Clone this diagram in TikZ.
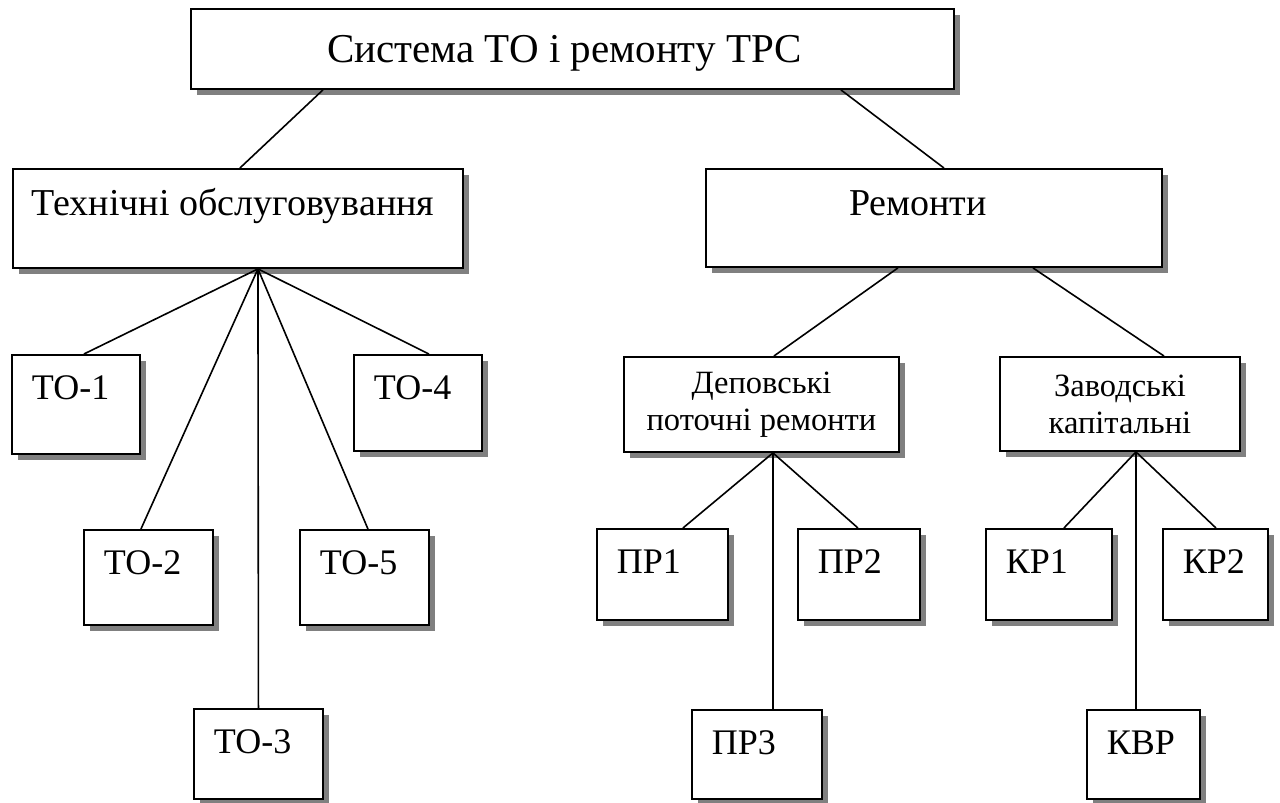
\documentclass[tikz,border=0pt]{standalone}
\usepackage{fontspec}
\setmainfont{Liberation Serif}
\definecolor{shadowgray}{RGB}{128,128,128}
\usetikzlibrary{shadows,positioning}
\tikzset{
  box/.style={draw, fill=white, line width=1.9pt, inner sep=0pt,
    general shadow={fill=shadowgray, shadow xshift=6pt, shadow yshift=-6pt}},
  headbox/.style={box, anchor=north west,
    font=\fontsize{38}{45}\selectfont},
  groupbox/.style={box, anchor=north west, align=center,
    font=\fontsize{32.5}{37}\selectfont},
  leafbox/.style={box, anchor=north west, align=left,
    inner xsep=20pt, text height=45pt,
    font=\fontsize{36}{42}\selectfont},
  link/.style={line width=1.6pt},
}

\begin{document}
\begin{tikzpicture}[x=1pt, y=-1pt]
  \useasboundingbox (0,0) rectangle (1280,803);

  % Top: the whole system
  \node[headbox, minimum width=763pt, text height=54pt, text depth=26pt,
        font=\fontsize{41}{48}\selectfont]
    (sys) at (190,8) {\hspace*{-16pt}Система ТО і ремонту ТРС};

  % Second level
  \node[headbox, minimum width=450pt, text height=47pt, text depth=52pt]
    (tech) at (12,168) {\hspace*{-10pt}Технічні обслуговування};
  \node[headbox, minimum width=456pt, text height=47pt, text depth=51pt]
    (rem) at (705,168) {\hspace*{-32pt}Ремонти};

  % Repair groups
  \node[groupbox, minimum width=275pt, minimum height=95pt]
    (dep) at (623,356) {Деповські\\поточні ремонти};
  \node[groupbox, minimum width=240pt, minimum height=94pt]
    (zav) at (999,356) {Заводські\\капітальні};

  % Maintenance leaves
  \node[leafbox, text width=88pt, text depth=54pt] (to1) at (11,354) {ТО-1};
  \node[leafbox, text width=88pt, text depth=51pt] (to4) at (353,354) {ТО-4};
  \node[leafbox, text width=89pt, text depth=50pt] (to2) at (83,529) {ТО-2};
  \node[leafbox, text width=89pt, text depth=50pt] (to5) at (299,529) {ТО-5};
  \node[leafbox, text width=89pt, text depth=45pt] (to3) at (193,708) {ТО-3};

  % Repair leaves
  \node[leafbox, text width=91pt, text depth=46pt] (pr1) at (596,528) {ПР1};
  \node[leafbox, text width=82pt, text depth=46pt] (pr2) at (797,528) {ПР2};
  \node[leafbox, text width=90pt, text depth=44pt] (pr3) at (691,709) {ПР3};
  \node[leafbox, text width=86pt, text depth=46pt] (kr1) at (985,528) {КР1};
  \node[leafbox, text width=65pt, text depth=46pt] (kr2) at (1162,528) {КР2};
  \node[leafbox, text width=73pt, text depth=44pt] (kvr) at (1086,709) {КВР};

  % Fan points
  \coordinate (techfan) at ([xshift=20pt]tech.south);
  \coordinate (depfan) at ([xshift=11.5pt]dep.south);
  \coordinate (zavfan) at ([xshift=16pt]zav.south);

  % Connectors
  \draw[link] ([xshift=-249.5pt]sys.south) -- ([xshift=2pt]tech.north);
  \draw[link] ([xshift=268.5pt]sys.south) -- ([xshift=10pt]rem.north);
  \draw[link] ([xshift=-36pt]rem.south) -- ([xshift=12.5pt]dep.north);
  \draw[link] ([xshift=99pt]rem.south) -- ([xshift=44pt]zav.north);
  \foreach \leaf/\dx in {to1/8, to2/-7.5, to3/0, to5/3.5, to4/11}
    \draw[link] (techfan) -- ([xshift=\dx pt]\leaf.north);
  \foreach \leaf/\dx in {pr1/20.5, pr3/16, pr2/-1}
    \draw[link] (depfan) -- ([xshift=\dx pt]\leaf.north);
  \foreach \leaf/\dx in {kr1/15, kvr/-7.5, kr2/0.5}
    \draw[link] (zavfan) -- ([xshift=\dx pt]\leaf.north);
\end{tikzpicture}
\end{document}
